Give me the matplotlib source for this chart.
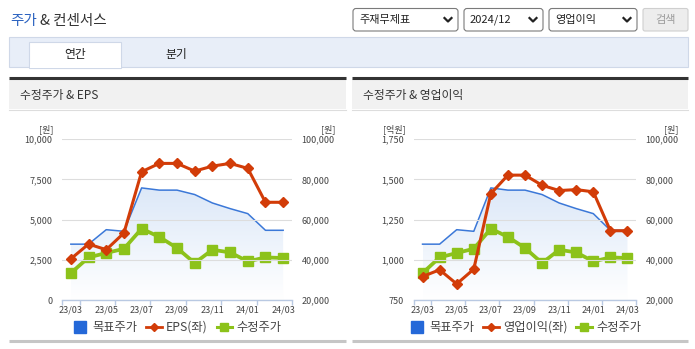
import numpy as np
import matplotlib
matplotlib.use("Agg")
from matplotlib import pyplot as plt
from matplotlib.patches import Rectangle, FancyBboxPatch
from matplotlib.lines import Line2D
from matplotlib.colors import LinearSegmentedColormap

plt.rcParams['font.family'] = ['Noto Sans CJK KR', 'DejaVu Sans']

# data
months = ['23/03', '23/04', '23/05', '23/06', '23/07', '23/08', '23/09',
          '23/10', '23/11', '23/12', '24/01', '24/02', '24/03']
target_price = [47800, 47800, 55000, 54200, 75800, 74700, 74700,
                72500, 68300, 65500, 63000, 54700, 54700]
adj_price = [33400, 41200, 43400, 45500, 55500, 51400, 45900,
             38400, 45000, 43700, 39200, 41200, 40900]
eps = [2560, 3480, 3130, 4170, 7980, 8500, 8500,
       8020, 8330, 8500, 8190, 6080, 6080]
op_income = [896, 938, 850, 942, 1412, 1527, 1527,
             1464, 1431, 1437, 1423, 1181, 1181]

eps_ticks = [0, 2500, 5000, 7500, 10000]
op_ticks = [750, 1000, 1250, 1500, 1750]
price_ticks = [20000, 40000, 60000, 80000, 100000]

C_BLUE = '#3b78d8'
C_RED = '#d23c08'
C_GREEN = '#8cc21a'
C_TXT = '#444444'

W, H = 695, 349
fig = plt.figure(figsize=(W / 100, H / 100), dpi=100)


def box(x0, y0, x1, y1):
    return [x0 / W, 1 - y1 / H, (x1 - x0) / W, (y1 - y0) / H]


# page background in pixel coordinates
bg = fig.add_axes([0, 0, 1, 1])
bg.set_xlim(0, W)
bg.set_ylim(H, 0)
bg.axis('off')

bg.text(10, 21, '주가', color='#2b62c0', fontsize=10.5, va='center')
bg.text(40, 21, '& 컨센서스', color='#333333', fontsize=10.5, va='center')

# dropdowns
for x0, x1, label in [(353, 458, '주재무제표'), (464, 543, '2024/12'), (549, 637, '영업이익')]:
    bg.add_patch(FancyBboxPatch((x0, 8.5), x1 - x0, 22.5, boxstyle='round,pad=0,rounding_size=3',
                                fc='white', ec='#7a7a7a', lw=0.8))
    bg.text(x0 + 6, 20, label, fontsize=8, color='#222222', va='center')
    cx = x1 - 10
    bg.plot([cx - 3.5, cx, cx + 3.5], [18, 21.5, 18], color='#222222', lw=1.6)
bg.add_patch(FancyBboxPatch((643, 8.5), 45, 22.5, boxstyle='round,pad=0,rounding_size=2',
                            fc='#ededed', ec='#cfcfcf', lw=0.8))
bg.text(665.5, 20, '검색', fontsize=8, color='#9a9a9a', va='center', ha='center')

# tab bar
bg.add_patch(Rectangle((8.5, 37), 679.5, 30, fc='#e8eef8', ec='#cfd8e8', lw=0.8))
bg.add_patch(Rectangle((29, 42), 92, 26, fc='white', ec='#cfd8e8', lw=0.8))
bg.add_patch(Rectangle((29.5, 64), 91, 4, fc='white', ec='none'))
bg.text(75, 54.5, '연간', fontsize=8.5, color='#222222', ha='center', va='center')
bg.text(176, 54.5, '분기', fontsize=8.5, color='#222222', ha='center', va='center')

# panel frames
for x0, x1, title in [(9, 346, '수정주가 & EPS'), (352, 688, '수정주가 & 영업이익')]:
    bg.add_patch(Rectangle((x0, 79), x1 - x0, 30, fc='#f1f1f1', ec='none'))
    bg.plot([x0, x1], [78, 78], color='#333333', lw=2.2, solid_capstyle='butt')
    bg.plot([x0, x1], [109.5, 109.5], color='#dddddd', lw=0.8)
    bg.plot([x0, x1], [340.5, 340.5], color='#c6c6c6', lw=2.2, solid_capstyle='butt')
    bg.text(x0 + 11, 95, title, fontsize=8.5, color='#333333', va='center')


def draw_chart(x0, x1, left_vals, left_ticks, left_unit, left_name):
    ax = fig.add_axes(box(x0, 139.3, x1, 300))
    ax2 = ax.twinx()
    idx = np.arange(len(months))

    # target price area with a soft vertical gradient
    fill = ax2.fill_between(idx, target_price, price_ticks[0], color='none', lw=0)
    cmap = LinearSegmentedColormap.from_list('fade', ['#ffffff', '#dce8f8'])
    grad = np.linspace(0, 1, 256).reshape(-1, 1)
    im = ax2.imshow(grad, extent=[0, len(months) - 1, price_ticks[0], max(target_price)],
                    origin='lower', aspect='auto', cmap=cmap, zorder=1)
    im.set_clip_path(fill.get_paths()[0], transform=ax2.transData)
    ax2.plot(idx, target_price, color=C_BLUE, lw=1.1, zorder=2)
    ax2.plot(idx, adj_price, color=C_GREEN, lw=2.7, marker='s', ms=7, zorder=3)
    ax2.set_ylim(price_ticks[0], price_ticks[-1])
    ax2.set_yticks(price_ticks)
    ax2.set_yticklabels([f'{v:,}' for v in price_ticks])

    ax.plot(idx, left_vals, color=C_RED, lw=2.2, marker='D', ms=4.6, zorder=4)
    ax.set_ylim(left_ticks[0], left_ticks[-1])
    ax.set_yticks(left_ticks)
    ax.set_yticklabels([f'{v:,}' for v in left_ticks])
    ax.grid(axis='y', color='#dddddd', lw=0.8)
    ax.set_axisbelow(True)

    ax.set_zorder(ax2.get_zorder() + 1)
    ax.patch.set_visible(False)

    ax.set_xlim(-0.5, len(months) - 0.5)
    ax.set_xticks(idx[::2])
    ax.set_xticklabels(months[::2])
    ax.set_xticks([-0.5, 0.5, 2.5, 4.5, 6.5, 8.5, 10.5, 12.5], minor=True)
    ax.tick_params(axis='x', which='major', length=0, pad=4, labelsize=6.5, labelcolor=C_TXT)
    ax.tick_params(axis='x', which='minor', length=3.5, color='#b9c9e2', width=1)
    ax.tick_params(axis='y', length=0, pad=7, labelsize=6.5, labelcolor=C_TXT)
    ax2.tick_params(axis='y', length=0, pad=7, labelsize=6.5, labelcolor=C_TXT)

    for s in ['top', 'left', 'right']:
        ax.spines[s].set_visible(False)
    for s in ax2.spines.values():
        s.set_visible(False)
    ax.spines['bottom'].set_color('#b9c9e2')
    ax.spines['bottom'].set_linewidth(1)

    ax.text(-0.035, 1.035, left_unit, transform=ax.transAxes, ha='right', va='bottom',
            fontsize=6.5, color=C_TXT)
    ax.text(1.19, 1.035, '[원]', transform=ax.transAxes, ha='right', va='bottom',
            fontsize=6.5, color=C_TXT)

    handles = [Line2D([], [], color='#2468d8', marker='s', ms=9, lw=0),
               Line2D([], [], color=C_RED, marker='D', ms=4, lw=2),
               Line2D([], [], color=C_GREEN, marker='s', ms=5.5, lw=2.2)]
    ax.legend(handles, ['목표주가', left_name, '수정주가'], loc='upper center',
              bbox_to_anchor=(0.5, -0.1), ncol=3, frameon=False, fontsize=8.8,
              labelcolor=C_TXT, handlelength=1.3, handletextpad=0.35, columnspacing=0.7,
              borderaxespad=0)


draw_chart(62, 292, eps, eps_ticks, '[원]', 'EPS(좌)')
draw_chart(414, 636, op_income, op_ticks, '[억원]', '영업이익(좌)')

fig.savefig('out.png', dpi=100)
